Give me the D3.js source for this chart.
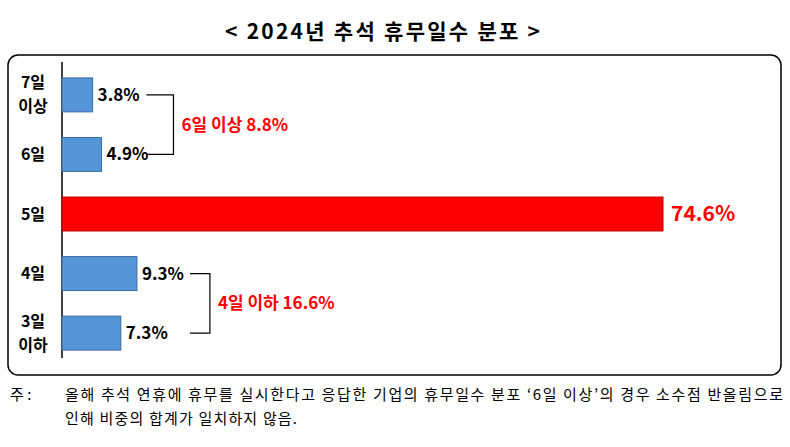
<!DOCTYPE html>
<html><head><meta charset="utf-8">
<script src="https://cdn.jsdelivr.net/npm/d3@7"></script>
<style>body{margin:0;background:#fff;font-family:"Noto Sans CJK KR","Noto Sans",sans-serif}</style>
</head><body><svg id="c" width="790" height="447"></svg>
<script>
const categories = [["7일","이상"],["6일"],["5일"],["4일"],["3일","이하"]];
const values = [3.8, 4.9, 74.6, 9.3, 7.3];
const highlight = [false,false,true,false,false];
const groups = [{label:"6일 이상 8.8%", from:0, to:1}, {label:"4일 이하 16.6%", from:3, to:4}];
const title = "< 2024년 추석 휴무일수 분포 >";
const notePrefix = "주 :";
const notes = ["올해 추석 연휴에 휴무를 실시한다고 응답한 기업의 휴무일수 분포 ‘6일 이상’의 경우 소수점 반올림으로", "인해 비중의 합계가 일치하지 않음."];

const svg = d3.select("#c");
svg.append("text").attr("x",225).attr("y",39).attr("textLength",315).attr("lengthAdjust","spacing")
  .attr("font-size",21).attr("font-weight","bold").text(title);
svg.append("rect").attr("x",8).attr("y",55).attr("width",773).attr("height",320)
  .attr("rx",10).attr("fill","none").attr("stroke","#000").attr("stroke-width",1.5);

const x = d3.scaleLinear().domain([0,74.6]).range([62,663]);
const y = d3.scaleBand().domain(d3.range(values.length)).range([66,362]).paddingInner(0.43).paddingOuter(0.2);

svg.append("line").attr("x1",62).attr("x2",62).attr("y1",62).attr("y2",358).attr("stroke","#000").attr("stroke-width",1.5);

values.forEach((v,i)=>{
  const by=y(i), h=y.bandwidth();
  svg.append("rect").attr("x",x(0)).attr("y",by).attr("width",x(v)-x(0)).attr("height",h)
    .attr("fill",highlight[i]?"#ff0000":"#5596d9").attr("stroke",highlight[i]?"#c00000":"#3a6aa0").attr("stroke-width",1);
  svg.append("text").attr("x",x(v)+(highlight[i]?8:5)).attr("y",by+h/2).attr("dy","0.35em")
    .attr("font-size",highlight[i]?21:17).attr("font-weight","bold").attr("fill",highlight[i]?"#ff0000":"#000")
    .text(v.toFixed(1)+"%");
  const lines=categories[i];
  lines.forEach((l,k)=>{
    svg.append("text").attr("x",33).attr("y",by+h/2+(k-(lines.length-1)/2)*24).attr("dy","0.35em")
      .attr("text-anchor","middle").attr("font-size",16).attr("font-weight","bold").text(l);
  });
});

groups.forEach((g,j)=>{
  const y1=y(g.from)+y.bandwidth()/2, y2=y(g.to)+y.bandwidth()/2;
  const xs = x(Math.max(values[g.from],values[g.to]))+(j===0?45:53);
  const xe = xs+(j===0?27:20);
  svg.append("path").attr("d",`M${xs},${y1}H${xe}V${y2}H${xs}`).attr("fill","none").attr("stroke","#000").attr("stroke-width",1.2);
  svg.append("text").attr("x",xe+8).attr("y",(y1+y2)/2).attr("dy","0.35em")
    .attr("font-size",17).attr("font-weight","bold").attr("fill","#ff0000").text(g.label);
});

svg.append("text").attr("x",10).attr("y",400).attr("font-size",15).text(notePrefix);
svg.append("text").attr("x",65).attr("y",400).attr("font-size",15).attr("textLength",718).attr("lengthAdjust","spacing").text(notes[0]);
svg.append("text").attr("x",65).attr("y",424).attr("font-size",15).attr("textLength",232).attr("lengthAdjust","spacing").text(notes[1]);
</script></body></html>
